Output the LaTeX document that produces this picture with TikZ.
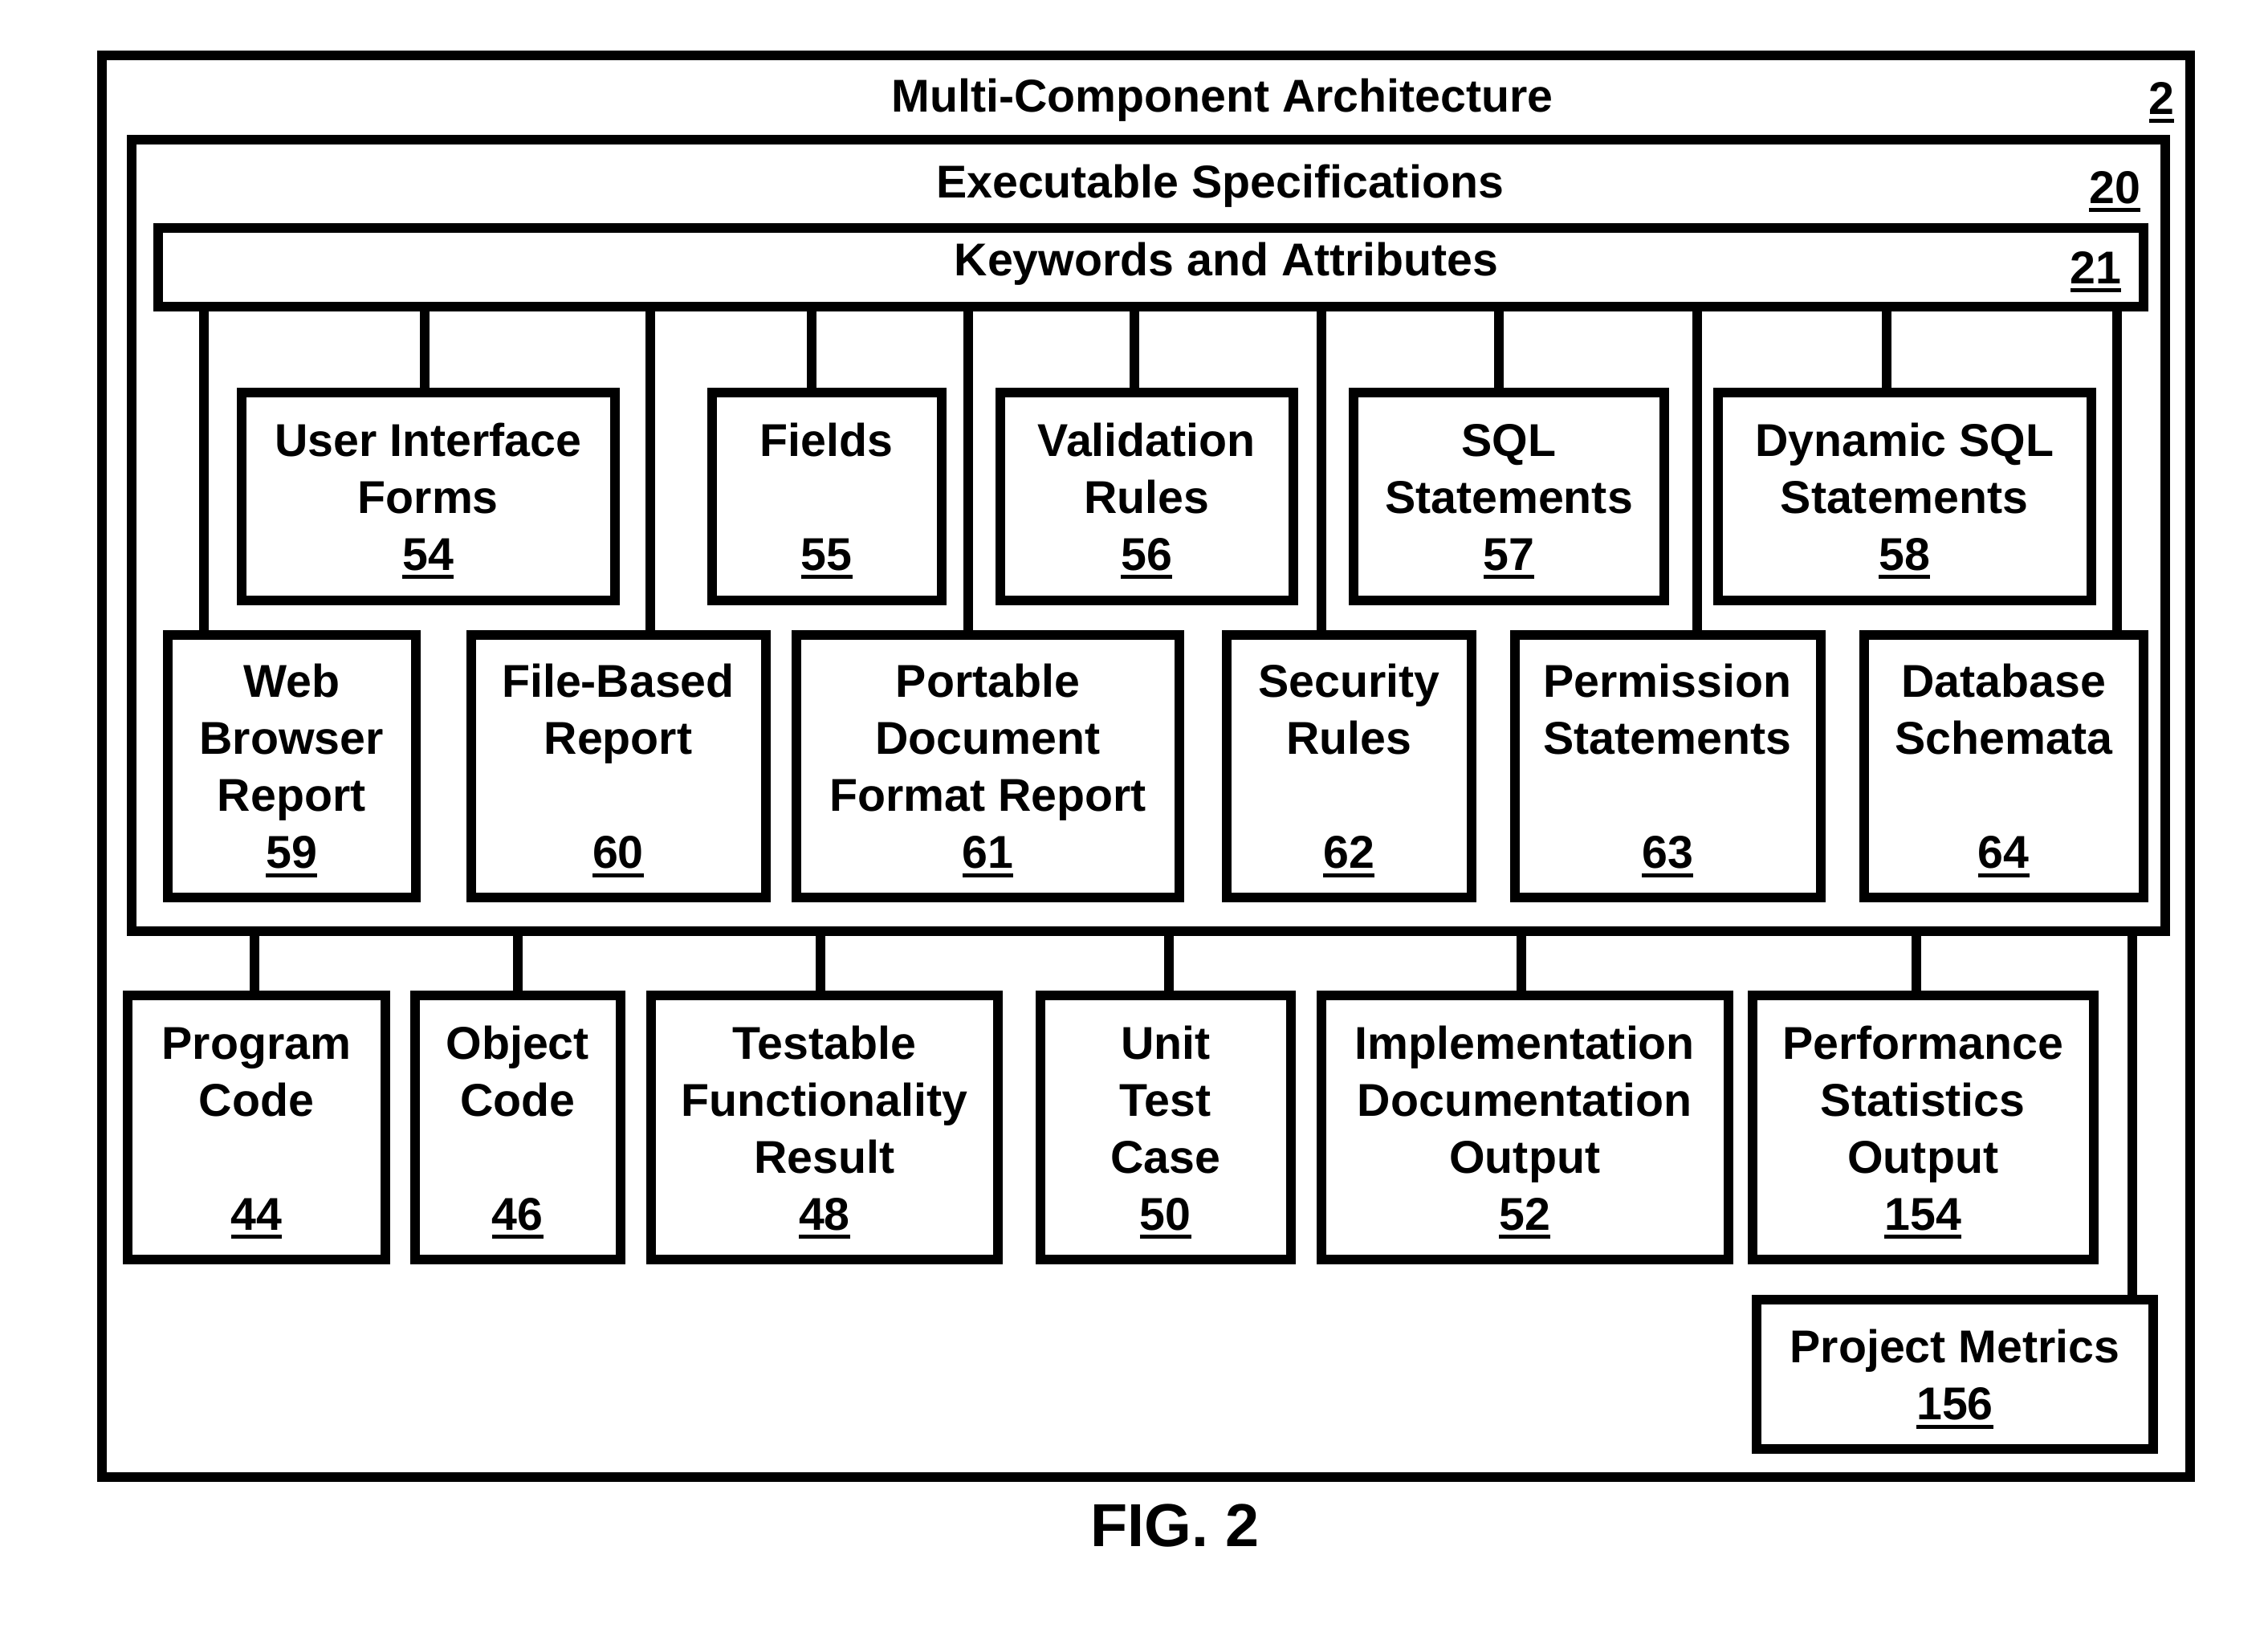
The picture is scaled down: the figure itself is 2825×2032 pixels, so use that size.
\documentclass[tikz,border=0pt]{standalone}
\usepackage{fontspec}
\setmainfont{Liberation Sans}
\newcommand{\myul}[1]{\setbox0\hbox{#1}\rlap{\rule[-1.1mm]{\wd0}{0.5mm}}\box0}
\newcommand{\mytop}{\rule{0pt}{5.6mm}}
\newcommand{\mybot}{\rule[-1.4mm]{0pt}{1.4mm}}
\newcommand{\leafbox}[6]{%
  \node[leaf, minimum width={(#3-#2)*0.1mm}, minimum height={(#5-#4)*0.1mm}]
    (#1) at ({(#2+#3)/2},{(#4+#5)/2}) {\mytop #6\mybot};}
\begin{document}
\begin{tikzpicture}[x=0.1mm,y=-0.1mm,
  frame/.style={draw, line width=1.2mm, inner sep=0pt},
  leaf/.style={frame, align=center, font=\fontsize{16.3}{20.2}\selectfont\bfseries},
  title/.style={anchor=base, inner sep=0pt, font=\fontsize{16.3}{20.2}\selectfont\bfseries},
  figlabel/.style={anchor=base, inner sep=0pt, font=\fontsize{21.5}{26}\selectfont\bfseries},
  conn/.style={line width=1.2mm}]
\useasboundingbox (0,0) rectangle (2825,2032);

% containers
\node[frame, minimum width=260.1mm, minimum height=177.1mm] (arch) at (1427.5,954.5) {};
\node[frame, minimum width=253.35mm, minimum height=98.6mm] (exec) at (1430.25,667) {};
\node[frame, minimum width=247.25mm, minimum height=9.8mm] (kw) at (1433.25,333) {};

\node[title] (tarch) at (1522.5,139) {Multi-Component Architecture};
\node[title] (n2) at (2692.5,142) {\myul{2}};
\node[title] (texec) at (1519.5,246) {Executable Specifications};
\node[title] (n20) at (2634,253) {\myul{20}};
\node[title] (tkw) at (1527.7,343) {Keywords and Attributes};
\node[title] (n21) at (2610.6,353) {\myul{21}};

% top row
\leafbox{b54}{301}{765.5}{489}{747.5}{User Interface\\Forms\\\myul{54}}
\leafbox{b55}{887}{1172.5}{489}{747.5}{Fields\\\mbox{}\\\myul{55}}
\leafbox{b56}{1245.5}{1611}{489}{747.5}{Validation\\Rules\\\myul{56}}
\leafbox{b57}{1686}{2073}{489}{747.5}{SQL\\Statements\\\myul{57}}
\leafbox{b58}{2139.5}{2605}{489}{747.5}{Dynamic SQL\\Statements\\\myul{58}}

% middle row
\leafbox{b59}{208.5}{518}{791}{1117.5}{Web\\Browser\\Report\\\myul{59}}
\leafbox{b60}{586.5}{953.5}{791}{1117.5}{File-Based\\Report\\\mbox{}\\\myul{60}}
\leafbox{b61}{992}{1469}{791}{1117.5}{Portable\\Document\\Format Report\\\myul{61}}
\leafbox{b62}{1528}{1832.5}{791}{1117.5}{Security\\Rules\\\mbox{}\\\myul{62}}
\leafbox{b63}{1886.5}{2267.5}{791}{1117.5}{Permission\\Statements\\\mbox{}\\\myul{63}}
\leafbox{b64}{2321.5}{2670}{791}{1117.5}{Database\\Schemata\\\mbox{}\\\myul{64}}

% bottom row
\leafbox{b44}{159}{480}{1240}{1569}{Program\\Code\\\mbox{}\\\myul{44}}
\leafbox{b46}{517}{772.5}{1240}{1569}{Object\\Code\\\mbox{}\\\myul{46}}
\leafbox{b48}{811}{1243}{1240}{1569}{Testable\\Functionality\\Result\\\myul{48}}
\leafbox{b50}{1296}{1607.5}{1240}{1569}{Unit\\Test\\Case\\\myul{50}}
\leafbox{b52}{1646}{2152.5}{1240}{1569}{Implementation\\Documentation\\Output\\\myul{52}}
\leafbox{b154}{2183}{2607.5}{1240}{1569}{Performance\\Statistics\\Output\\\myul{154}}
\leafbox{b156}{2188}{2682}{1619}{1805}{Project Metrics\\\myul{156}}

% connector anchor points
\coordinate (c54) at ([xshift=-0.47mm]b54.north);
\coordinate (c55) at ([xshift=-1.88mm]b55.north);
\coordinate (c56) at ([xshift=-1.53mm]b56.north);
\coordinate (c57) at ([xshift=-1.28mm]b57.north);
\coordinate (c58) at ([xshift=-2.2mm]b58.north);
\coordinate (c59) at ([xshift=-10.89mm]b59.north);
\coordinate (c60) at ([xshift=3.95mm]b60.north);
\coordinate (c61) at ([xshift=-2.48mm]b61.north);
\coordinate (c62) at ([xshift=-3.46mm]b62.north);
\coordinate (c63) at ([xshift=3.65mm]b63.north);
\coordinate (c64) at ([xshift=14.1mm]b64.north);
\coordinate (c44) at ([xshift=-0.3mm]b44.north);
\coordinate (c46) at (b46.north);
\coordinate (c48) at ([xshift=-0.54mm]b48.north);
\coordinate (c50) at ([xshift=0.43mm]b50.north);
\coordinate (c52) at ([xshift=-0.43mm]b52.north);
\coordinate (c154) at ([xshift=-0.8mm]b154.north);
\coordinate (c156) at ([xshift=22.06mm]b156.north);

\foreach \c in {c54,c55,c56,c57,c58,c59,c60,c61,c62,c63,c64}
  \draw[conn] (\c |- kw.south) -- (\c);
\foreach \c in {c44,c46,c48,c50,c52,c154,c156}
  \draw[conn] (\c |- exec.south) -- (\c);

\node[figlabel] (fig) at (1463.5,1926) {FIG. 2};
\end{tikzpicture}
\end{document}
